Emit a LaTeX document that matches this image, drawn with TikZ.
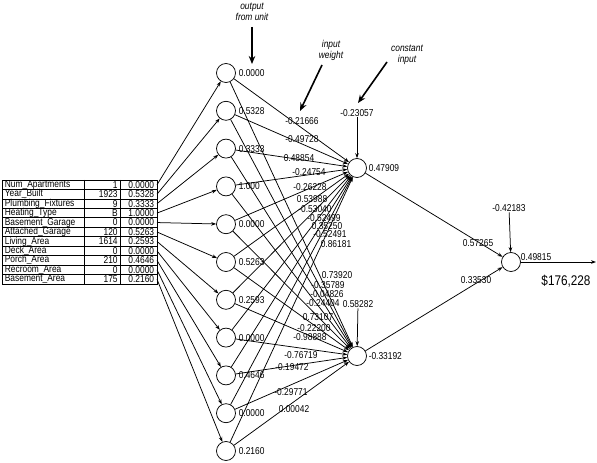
\documentclass[tikz,border=0pt]{standalone}
\usepackage{fontspec}
\setmainfont{Liberation Sans}[FakeStretch=0.84]
\usepackage{tikz}
\usetikzlibrary{arrows.meta,positioning}
\newcommand\netfont{\fontsize{10bp}{10.6bp}\selectfont}

\begin{document}
\begin{tikzpicture}[x=1bp,y=-1bp,line width=0.75bp,>={Stealth[length=5bp,width=3.6bp]},
  unit/.style={circle,draw,minimum size=19bp,inner sep=0pt},
  val/.style={font=\netfont,inner sep=0.5bp},
  note/.style={font=\netfont\itshape,align=center,inner sep=0pt},
  pointer/.style={line width=1.6bp,-{Stealth[length=8bp,width=6.5bp]}}]
\useasboundingbox (0,0) rectangle (597,463);
% input table
\draw (2,180) rectangle (157,284); \draw (84,180)--(84,284); \draw (120,180)--(120,284);
\foreach \r in {1,...,10} \draw (2,180+9.45*\r)--(157,180+9.45*\r);
\foreach \name/\raw/\scaled/\shown [count=\i] in {Num\_Apartments/1/0.0000/0.0000,
  Year\_Built/1923/0.5328/0.5328, Plumbing\_Fixtures/9/0.3333/0.3333, Heating\_Type/B/1.0000/1.000,
  Basement\_Garage/0/0.0000/0.0000, Attached\_Garage/120/0.5263/0.5263, Living\_Area/1614/0.2593/0.2593,
  Deck\_Area/0/0.0000/0.0000, Porch\_Area/210/0.4646/0.4646, Recroom\_Area/0/0.0000/0.0000,
  Basement\_Area/175/0.2160/0.2160} {
  \node[val,anchor=west] (var\i) at (4,175.3+9.45*\i) {\name};
  \node[val,anchor=east] (raw\i) at (118.5,175.3+9.45*\i) {\raw};
  \node[val,anchor=east] (scl\i) at (155,175.3+9.45*\i) {\scaled};
  \coordinate (tab\i) at (157,175.3+9.45*\i);
  \node[unit] (in\i) at (226,73+37.8*\i-37.8) {};
  \node[val,right=2bp of in\i] (out\i) {\shown};
  \draw[->] (tab\i) -- (in\i);
}
% hidden and output units
\node[unit] (h1) at (357,168) {};
\node[unit] (h2) at (357,356) {};
\node[unit] (o) at (511,262) {};
\foreach \i in {1,...,11} {\draw[->] (in\i) -- (h1); \draw[->] (in\i) -- (h2);}
\foreach \w/\x/\y [count=\k] in {-0.21666/302/121, -0.49728/302/139, 0.48854/299/158, -0.24754/309/172,
  -0.26228/310/187, 0.53988/312/199, -0.53040/315/209, -0.52499/324/218, 0.35250/327/226,
  -0.52491/330/234, 0.86181/336/244}
  \node[val] (wa\k) at (\x,\y) {\w};
\foreach \w/\x/\y [count=\k] in {0.73920/337/275, -0.35789/328/285, -0.04826/327/294, -0.24404/323/303,
  0.73107/318/317, -0.22200/314/328, -0.98888/310/337, -0.76719/301/355, -0.19472/292/367,
  -0.29771/291/392, 0.00042/294/409}
  \node[val] (wb\k) at (\x,\y) {\w};
% constant inputs
\node[val] (b1) at (357,113) {-0.23057}; \draw[->] (b1) -- (h1);
\node[val] (b2) at (358,304) {0.58282}; \draw[->] (b2) -- (h2);
\node[val] (b3) at (509,208) {-0.42183}; \draw[->] (b3) -- (o);
\node[val,right=1bp of h1] (hv1) {0.47909};
\node[val,right=1bp of h2] (hv2) {-0.33192};
\draw[->] (h1) -- (o); \draw[->] (h2) -- (o);
\node[val] (wo1) at (478,243) {0.57265};
\node[val] (wo2) at (476,280) {0.33530};
\coordinate (fin) at (596,262);
\draw[->] (o) -- (fin);
\node[val,anchor=south west] (ov) at (520,261) {0.49815};
\node[font=\fontsize{14bp}{16bp}\selectfont] (price) at (566,281) {\$176,228};
% annotations
\node[note] (n1) at (252,12) {output\\from unit};
\node[note] (n2) at (331,50.5) {input\\weight};
\node[note] (n3) at (407,55) {constant\\input};
\coordinate (n1a) at (252,27); \coordinate (n1b) at (252,64);
\coordinate (n2a) at (322,65); \coordinate (n2b) at (300,111);
\coordinate (n3a) at (387,62); \coordinate (n3b) at (358,103);
\draw[pointer] (n1a) -- (n1b);
\draw[pointer] (n2a) -- (n2b);
\draw[pointer] (n3a) -- (n3b);
\end{tikzpicture}
\end{document}
